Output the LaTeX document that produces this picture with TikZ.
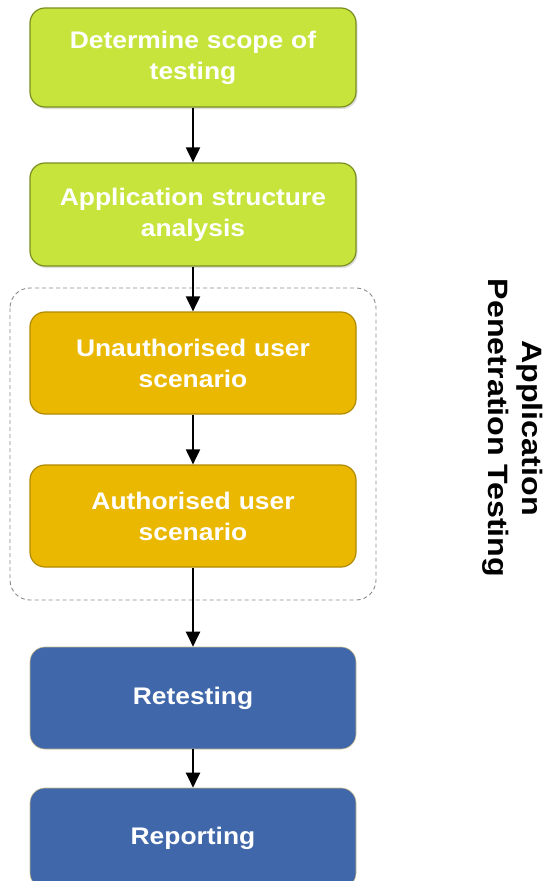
\documentclass[tikz,border=0pt]{standalone}
\usepackage{fontspec}
\setmainfont{Liberation Sans}[FakeStretch=1.1]
\newfontfamily\lblfont{Liberation Sans}[FakeStretch=1.15]
\usetikzlibrary{arrows.meta,shadows}
\definecolor{gfill}{HTML}{C6E43C}
\definecolor{gdraw}{HTML}{7A8E20}
\definecolor{yfill}{HTML}{EAB800}
\definecolor{ydraw}{HTML}{B08A00}
\definecolor{bfill}{HTML}{3F67AA}
\definecolor{bdraw}{HTML}{C8B88A}
\definecolor{dashcol}{HTML}{8A8A8A}
\tikzset{
  x=1pt,y=-1pt,
  stepbox/.style={rounded corners=15pt, minimum width=326pt, minimum height=100pt,
    text width=320pt, align=center, text=white, font=\bfseries\fontsize{24}{31}\selectfont,
    line width=1.2pt, inner sep=0pt},
  greenbox/.style={stepbox, fill=gfill, draw=gdraw, drop shadow={opacity=0.25, shadow xshift=1.5pt, shadow yshift=-2pt}},
  goldbox/.style={stepbox, fill=yfill, draw=ydraw},
  bluebox/.style={stepbox, fill=bfill, draw=bdraw, line width=0.6pt},
  flow/.style={line width=2pt, -{Triangle[length=15pt,width=14pt]}},
}
\begin{document}
\begin{tikzpicture}
\useasboundingbox (0,0) rectangle (548,881);
\draw[dashcol, dash pattern=on 4pt off 3pt, rounded corners=20pt, line width=0.9pt] (10,288) rectangle (376,600);
\node[greenbox, minimum height=99pt] (n1) at (193,57.5) {Determine scope of\\testing};
\node[greenbox, minimum height=103pt] (n2) at (193,214.5) {Application structure\\analysis};
\node[goldbox, minimum height=102pt] (n3) at (193,363) {Unauthorised user\\scenario};
\node[goldbox, minimum height=102pt] (n4) at (193,516) {Authorised user\\scenario};
\node[bluebox, minimum height=102pt] (n5) at (193,698) {Retesting};
\node[bluebox, minimum height=100pt] (n6) at (193,838) {Reporting};
\draw[flow] (n1) -- (n2);
\draw[flow] (n2) -- (n3);
\draw[flow] (n3) -- (n4);
\draw[flow] (n4) -- (n5);
\draw[flow] (n5) -- (n6);
\node[rotate=-90, align=center, font=\lblfont\bfseries\fontsize{28}{34}\selectfont] (lbl) at (513,428) {Application\\Penetration Testing};
\end{tikzpicture}
\end{document}
